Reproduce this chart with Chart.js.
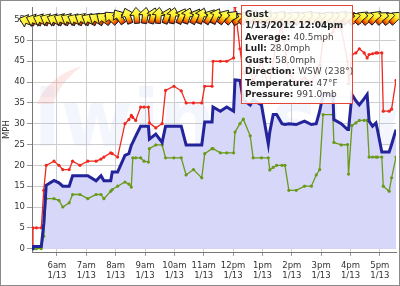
<!DOCTYPE html>
<html><head><meta charset="utf-8">
<script src="https://cdn.jsdelivr.net/npm/chart.js@4/dist/chart.umd.min.js"></script>
<style>html,body{margin:0;padding:0;background:#fff}canvas{display:block}</style>
</head><body>
<div style="width:400px;height:286px"><canvas id="c" width="400" height="286"></canvas></div>
<script>
// ---- data ----
const times = ['5:09','5:11','5:18','5:28','5:33','5:38','5:54','6:04','6:12','6:25','6:32','6:47','7:03','7:20','7:30','7:36','7:50','7:53','8:04','8:19','8:27','8:32','8:35','8:41','8:51','8:58','9:07','9:09','9:22','9:35','9:42','9:59','10:14','10:24','10:39','10:56','11:02','11:17','11:19','11:34','11:47','12:01','12:04','12:14','12:21','12:35','12:41','12:58','13:12','13:15','13:22','13:29','13:40','13:46','13:54','14:09','14:26','14:40','14:50','14:57','15:04','15:24','15:26','15:41','15:54','15:56','16:03','16:11','16:18','16:28','16:34','16:38','16:45','16:52','16:55','17:04','17:07','17:19','17:24','17:33'];
const gust = [0,5,5,5,14,20,21,20,19,19,21,20,21,21,21.5,22,23,22.8,22,30,31,32,31.5,30.8,34,34,34,30.2,29,30,38,39,37.9,35,35,35,39,39,45,45,45,45.8,58,48,42,44,40,45,39,40,45,50,53.6,48,42,40,41,40,42,44,50,52,53,53,45,39.6,46.6,47,48,47,45.8,46.6,46.8,47,47,47,33,33,33.5,40.4];
const average = [0,0.5,0.5,0.5,6,15.2,16.4,15.8,15,15,17.5,17.5,17.5,16.3,17.5,16.3,16.3,18.4,18.4,22.4,22.8,24.8,25.5,27,29.4,29.4,29.4,26.3,27.5,25.5,29.4,29.4,29.4,24.9,24.9,24.9,30.4,30.4,34,33,34,33,40.5,40.4,35.7,34.5,35.7,34.5,25.1,28,32.2,32.2,30,29.8,30,29.8,30.6,29.8,30,33,37,37,31,30,28.6,28.6,37,35.5,34.5,36,37,30.6,29.4,30.2,28.6,23.2,23.2,23.2,25,28.6];
const lull = [0,0,0,0,3,12,12,11.6,10,11,13,13,12,13,13,12,13.8,14.2,15,16,15.5,14.8,21.8,21.8,21.8,21,20.8,24,24.9,24.9,21.8,21.8,21.8,17.7,19,17,22.8,24,24,23,23,23,28,30,31.1,27.1,21.8,21.8,21.8,18.9,19.5,20,20,20,14,14,15,15,17.7,19,32.2,32.2,25.5,24.9,25,17.9,29.6,30.2,30.8,30.8,30.8,22,22,22,22,22,15,13.8,17,22];
const windTimes = ['5:14','5:28','5:42','5:56','6:10','6:24','6:38','6:52','7:06','7:20','7:34','7:48','8:02','8:16','8:30','8:44','8:58','9:12','9:26','9:40','9:54','10:08','10:22','10:36','10:50','11:04','11:18','11:32','11:46','12:00','12:14','12:28','12:42','12:56','13:10','13:24','13:38','13:52','14:06','14:20','14:34','14:48','15:02','15:16','15:30','15:44','15:58','16:12','16:26','16:40','16:54','17:08','17:22'];
const windFrom = [108,112,114,116,115,117,118,116,120,118,122,126,134,146,160,175,188,196,186,200,192,205,198,208,200,212,205,215,222,238,225,218,228,220,230,222,232,225,230,222,228,235,225,230,222,228,235,225,230,222,228,232,226];
const windRow = 54.1;
const tickHours = [6,7,8,9,10,11,12,13,14,15,16,17];
const tickNames = ['6am','7am','8am','9am','10am','11am','12pm','1pm','2pm','3pm','4pm','5pm'];
const dateName = '1/13';
const yTicks = [0,5,10,15,20,25,30,35,40,45,50,55];
const yTitle = 'MPH';
const watermark = 'iwindsurf.com';
const tipTitle = 'Gust';
const tipDate = '1/13/2012 12:04pm';
const tipLabels = ['Average:','Lull:','Gust:','Direction:','Temperature:','Pressure:'];
const tipValues = ['40.5mph','28.0mph','58.0mph','WSW (238\u00B0)','47\u00B0F','991.0mb'];

// ---- helpers ----
function toHours(s){const p=s.split(':');return +p[0]+(+p[1])/60;}
const pts = arr => times.map((t,i)=>({x:toHours(t),y:arr[i]}));

const FONT = '"DejaVu Sans", Verdana, sans-serif';

const watermarkPlugin = {
  id:'wm',
  beforeDatasetsDraw(chart){
    const ctx=chart.ctx,a=chart.chartArea;
    ctx.save();
    ctx.beginPath();ctx.rect(a.left,a.top,a.right-a.left,a.bottom-a.top);ctx.clip();
    ctx.beginPath();
    ctx.moveTo(37,104);ctx.quadraticCurveTo(48,76,82,66);ctx.quadraticCurveTo(60,82,53,104);ctx.closePath();
    ctx.fillStyle='rgba(240,150,140,0.22)';ctx.fill();
    ctx.font='bold 78px '+FONT;
    ctx.fillStyle='rgba(175,195,240,0.15)';
    ctx.textBaseline='alphabetic';
    ctx.fillText(watermark,34,146);
    ctx.restore();
  }
};

// arrow drawn from its tail (origin) pointing up (toward -y), then rotated
function drawArrow(ctx){
  const gr=ctx.createLinearGradient(0,-16,0,0);
  gr.addColorStop(0,'#ffff70');gr.addColorStop(0.5,'#fff028');gr.addColorStop(0.76,'#ff9a00');gr.addColorStop(1,'#d81800');
  ctx.beginPath();
  ctx.moveTo(0,-16);ctx.lineTo(6.5,-8.3);ctx.lineTo(2.7,-8.3);ctx.lineTo(2.7,0);ctx.lineTo(-2.7,0);ctx.lineTo(-2.7,-8.3);ctx.lineTo(-6.5,-8.3);ctx.closePath();
  ctx.fillStyle=gr;ctx.fill();ctx.lineWidth=0.9;ctx.strokeStyle='#1a1a1a';ctx.stroke();
}

const windPlugin = {
  id:'wind',
  afterDatasetsDraw(chart){
    const ctx=chart.ctx,xs=chart.scales.x,ys=chart.scales.y;
    const py=ys.getPixelForValue(windRow);
    windTimes.forEach((t,i)=>{
      const px=xs.getPixelForValue(toHours(t));
      const ang=((windFrom[i]+180)%360)*Math.PI/180;
      ctx.save();
      ctx.setTransform(Math.cos(ang),Math.sin(ang),-Math.sin(ang),Math.cos(ang),px,py);
      drawArrow(ctx);
      ctx.restore();
    });
  }
};

const framePlugin = {
  id:'frame',
  afterDraw(chart){
    const ctx=chart.ctx;
    const bx=241.5, by=5.5, bw=111, bh=98;
    ctx.save();
    ctx.fillStyle='rgba(255,255,255,0.88)';
    ctx.fillRect(bx,by,bw,bh);
    ctx.strokeStyle='#e8453a';ctx.lineWidth=1;
    ctx.strokeRect(bx,by,bw,bh);
    ctx.textBaseline='alphabetic';ctx.textAlign='left';
    const tx=245, lh=11.5;
    let y=16.5;
    ctx.fillStyle='#222';
    ctx.font='bold 9px '+FONT;
    ctx.fillText(tipTitle,tx,y);
    y+=lh;
    ctx.fillText(tipDate,tx,y);
    for(let i=0;i<tipLabels.length;i++){
      y+=lh;
      ctx.font='bold 9px '+FONT;ctx.fillStyle='#222';
      ctx.fillText(tipLabels[i],tx,y);
      const w=ctx.measureText(tipLabels[i]+' ').width;
      ctx.font='9px '+FONT;ctx.fillStyle='#444';
      ctx.fillText(tipValues[i],tx+w,y);
    }
    ctx.strokeStyle='#8a8a8a';ctx.lineWidth=1;
    ctx.strokeRect(0.5,0.5,399,285);
    ctx.restore();
  }
};

new Chart(document.getElementById('c'),{
  type:'line',
  data:{datasets:[
    {label:'Average',data:pts(average),borderColor:'#23239a',borderWidth:3,pointRadius:0,fill:false,tension:0,order:1},
    {label:'Gust',data:pts(gust),borderColor:'#f0281e',backgroundColor:'#f0281e',borderWidth:1.3,pointRadius:1.6,pointBorderWidth:0,fill:false,tension:0,order:2},
    {label:'Lull',data:pts(lull),borderColor:'#6a9a18',backgroundColor:'#6a9a18',borderWidth:1.3,pointRadius:1.6,pointBorderWidth:0,fill:false,tension:0,order:3},
    {label:'AvgFill',data:pts(average),borderWidth:0,borderColor:'rgba(0,0,0,0)',backgroundColor:'#d7d7fa',pointRadius:0,fill:'origin',tension:0,order:5}
  ]},
  options:{
    responsive:false,animation:false,devicePixelRatio:1,
    layout:{padding:{top:1,right:2,left:0,bottom:0}},
    plugins:{legend:{display:false},tooltip:{enabled:false}},
    scales:{
      x:{type:'linear',min:toHours(times[0]),max:toHours(times[times.length-1]),
        afterBuildTicks(s){s.ticks=tickHours.map(v=>({value:v}));},
        afterFit(s){s.height=34;},
        grid:{color:'#cdcdcd',tickLength:4,tickColor:'#999'},
        border:{color:'#777'},
        ticks:{autoSkip:false,maxRotation:0,padding:4,color:'#333',font:{family:FONT,size:8.5,lineHeight:1.25},
          callback:(v)=>{const i=tickHours.indexOf(v);return i<0?'':[tickNames[i],dateName];}}
      },
      y:{min:-0.8,max:58,
        afterBuildTicks(s){s.ticks=yTicks.map(v=>({value:v}));},
        afterFit(s){s.width=32;},
        grid:{color:'#cdcdcd',tickLength:5,tickColor:'#999'},
        border:{color:'#777'},
        title:{display:true,text:yTitle,color:'#333',font:{family:FONT,size:8.5},padding:{top:2,bottom:0}},
        ticks:{padding:2,color:'#333',font:{family:FONT,size:8.5}}
      }
    }
  },
  plugins:[watermarkPlugin,windPlugin,framePlugin]
});
</script>
</body></html>
